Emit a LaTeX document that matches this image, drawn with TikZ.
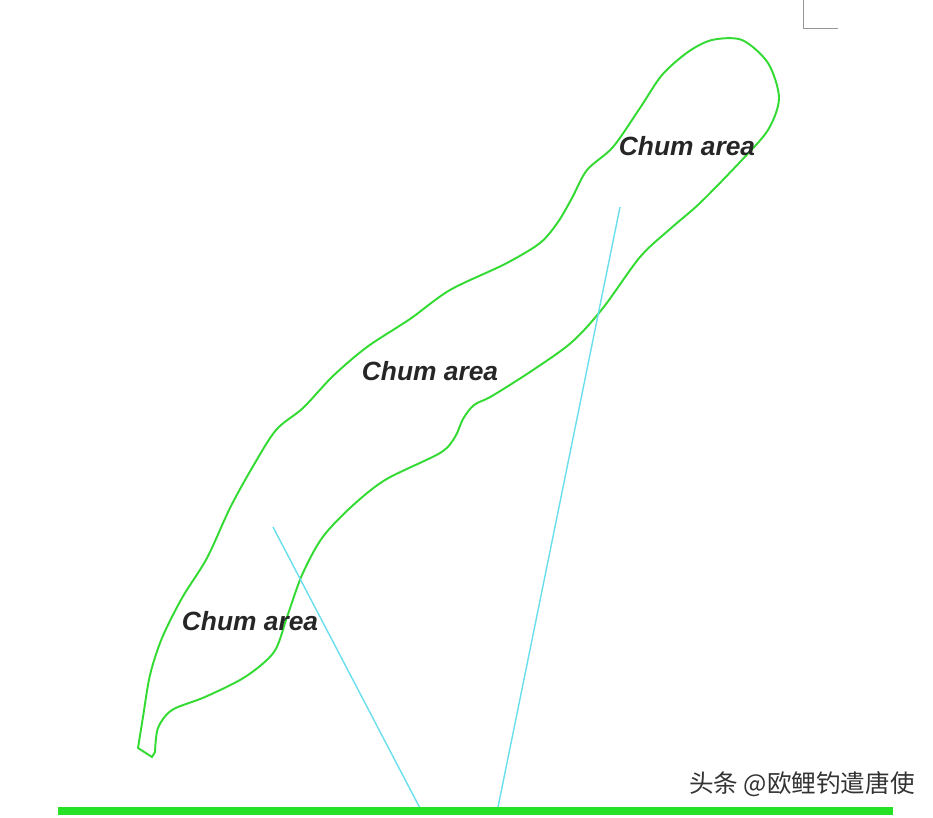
\documentclass[tikz,border=0pt]{standalone}
\usepackage{fontspec}
\setmainfont{Liberation Sans}
\newfontfamily\cjk{Noto Sans CJK SC}
\usepackage{tikz}
\usetikzlibrary{positioning}

\definecolor{chumgreen}{RGB}{50,218,50}
\definecolor{groundgreen}{RGB}{38,226,38}
\definecolor{castcyan}{RGB}{105,222,236}
\definecolor{markgray}{RGB}{150,150,150}

\tikzset{
  chumlabel/.style={font=\fontsize{15}{17}\selectfont\bfseries\itshape, text=black!85},
  chumline/.style={chumgreen, line width=1.1pt, line join=round},
  castline/.style={castcyan, line width=0.8pt},
}

\begin{document}
\begin{tikzpicture}[x=0.02cm, y=-0.02cm]
\useasboundingbox (0,0) rectangle (933,818);

% Corner mark
\draw[markgray, line width=0.5pt] (803,0) -- (803,28) -- (838,28);

% Chum outline
\draw[chumline] plot[smooth, tension=0.5] coordinates {
  (155,752) (158,728) (172,710) (205,697) (245,677)
  (274,652) (287,617) (302,575) (322,538) (350,508) (385,480)
  (440,453) (455,437) (463,419) (474,405) (492,396) (533,370)
  (572,342) (603,308) (640,257) (670,229) (700,203)
  (740,162) (768,130) (779,98) (768,63) (742,40) (712,40)
  (688,52) (662,75) (640,108) (613,147) (587,170)
  (572,198) (558,222) (540,243) (505,264) (450,290) (410,319)
  (367,347) (333,376) (303,408) (276,430) (252,468) (230,508)
  (207,558) (182,598) (162,638) (150,675) (143,717) (138,748)}
  -- (152,757) -- cycle;

% Cast lines
\coordinate (castA top) at (273,527);
\coordinate (castA bot) at (422,812);
\coordinate (castB top) at (620,207);
\coordinate (castB bot) at (497,812);
\draw[castline] (castA top) -- (castA bot);
\draw[castline] (castB top) -- (castB bot);

% Ground
\draw[groundgreen, line width=4.5pt] (58,811) -- (893,811);

% Labels
\node[chumlabel] (topchum) at (687,146) {Chum area};
\node[chumlabel] (midchum) at (430,371) {Chum area};
\node[chumlabel] (lowchum) at (250,621) {Chum area};

% Watermark
\node[font=\cjk\fontsize{14}{16}\selectfont, text=black!80] (mark) at (802,784) {头条 @欧鲤钓遣唐使};
\end{tikzpicture}
\end{document}
